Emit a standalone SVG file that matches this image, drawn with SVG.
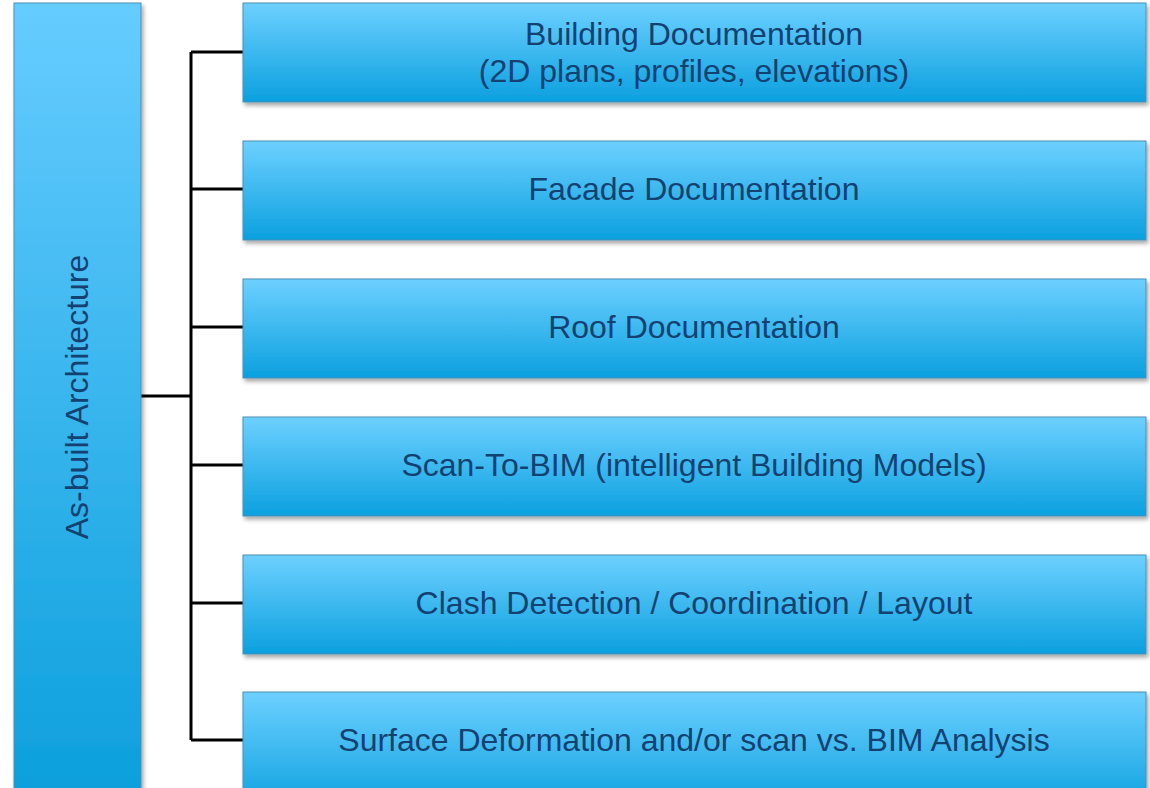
<svg xmlns="http://www.w3.org/2000/svg" width="1150" height="788" viewBox="0 0 1150 788">
<defs>
<linearGradient id="g" x1="0" y1="0" x2="0" y2="1">
<stop offset="0" stop-color="#6dd0ff"/>
<stop offset="1" stop-color="#0ba0df"/>
</linearGradient>
<linearGradient id="gl" x1="0" y1="0" x2="0" y2="1">
<stop offset="0" stop-color="#66ccff"/>
<stop offset="1" stop-color="#0b9fdc"/>
</linearGradient>
<filter id="sh" x="-5%" y="-5%" width="110%" height="120%">
<feDropShadow dx="2" dy="3" stdDeviation="2" flood-color="#000" flood-opacity="0.35"/>
</filter>
</defs>
<style>
.box{stroke:#4a8fb5;stroke-width:1;filter:url(#sh)}
.t{font-family:"Liberation Sans",Arial,sans-serif;font-size:32px;fill:#134272;text-anchor:middle}
.c{fill:none;stroke:#000;stroke-width:3}
</style>
<rect width="1150" height="788" fill="#fff"/>
<g id="connectors">
<path class="c" d="M141 396H191M191 52V740M191 52H243M191 189H243M191 327H243M191 465H243M191 603H243M191 740H243"/>
</g>
<g id="n0">
<rect class="box" x="14" y="3" width="127" height="800" fill="url(#gl)"/>
<text class="t" transform="translate(88,397) rotate(-90)">As-built Architecture</text>
</g>
<g id="n1">
<rect class="box" x="243" y="3" width="903" height="99" fill="url(#g)"/>
<text class="t" x="694" y="45">Building Documentation</text>
<text class="t" x="694" y="82">(2D plans, profiles, elevations)</text>
</g>
<g id="n2">
<rect class="box" x="243" y="141" width="903" height="99" fill="url(#g)"/>
<text class="t" x="694" y="200">Facade Documentation</text>
</g>
<g id="n3">
<rect class="box" x="243" y="279" width="903" height="99" fill="url(#g)"/>
<text class="t" x="694" y="338">Roof Documentation</text>
</g>
<g id="n4">
<rect class="box" x="243" y="417" width="903" height="99" fill="url(#g)"/>
<text class="t" x="694" y="476">Scan-To-BIM (intelligent Building Models)</text>
</g>
<g id="n5">
<rect class="box" x="243" y="555" width="903" height="99" fill="url(#g)"/>
<text class="t" x="694" y="614">Clash Detection / Coordination / Layout</text>
</g>
<g id="n6">
<rect class="box" x="243" y="692" width="903" height="120" fill="url(#g)"/>
<text class="t" x="694" y="751">Surface Deformation and/or scan vs. BIM Analysis</text>
</g>
</svg>
